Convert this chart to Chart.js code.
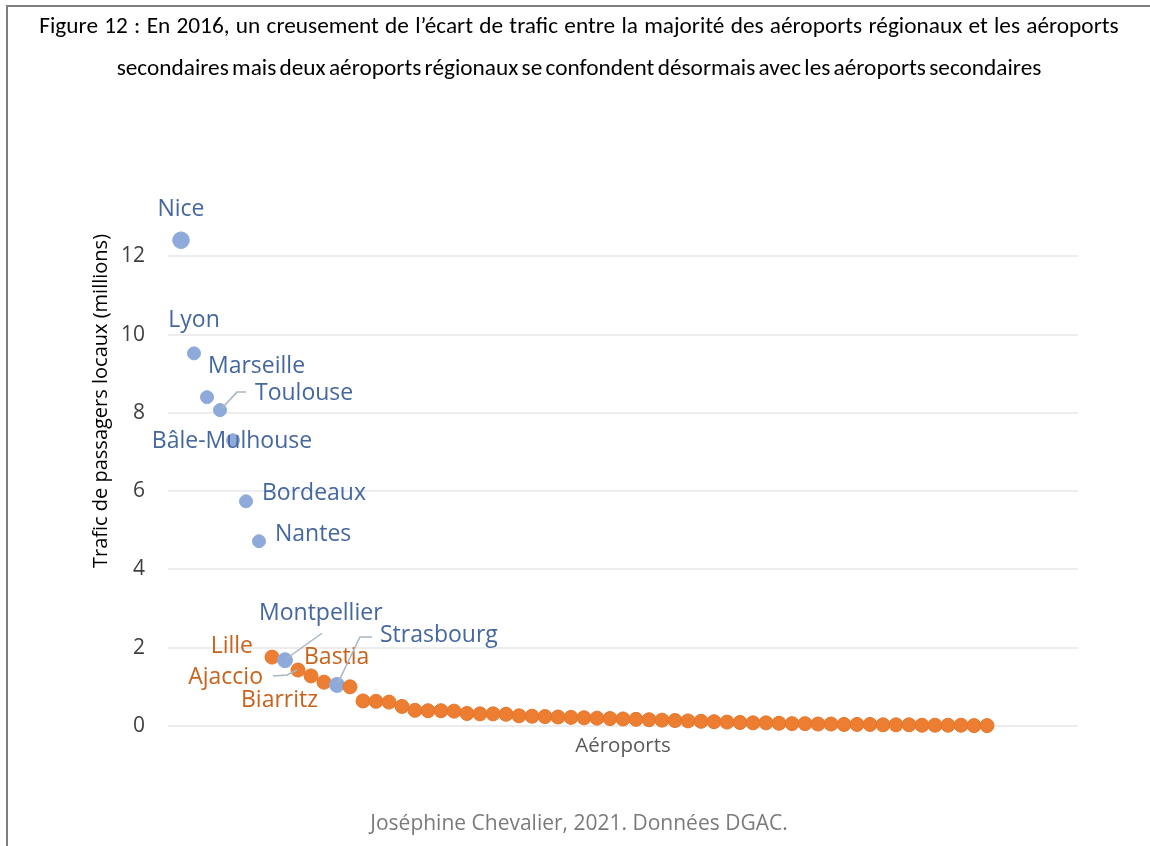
<!DOCTYPE html>
<html lang="fr">
<head>
<meta charset="utf-8">
<title>Figure 12</title>
<script src="https://cdn.jsdelivr.net/npm/chart.js@4.4.1/dist/chart.umd.min.js"></script>
<style>
    body { margin: 0; background: #fff; }
    #cadre {
        position: absolute; left: 6px; top: 5px; width: 1144px; height: 841px;
        border-top: 2px solid #7f7f7f; border-left: 2px solid #7f7f7f;
    }
    #graphique { position: absolute; left: 0; top: 0; }
    .titre {
        position: absolute; left: 4px; width: 1150px; text-align: center;
        font-family: 'Carlito', 'Liberation Sans Narrow', 'DejaVu Sans Condensed', sans-serif;
        font-size: 23.3px; line-height: 30px; color: #000; white-space: nowrap;
    }
    #source {
        position: absolute; left: 4px; width: 1150px; top: 808px; text-align: center;
        font-family: 'Open Sans', sans-serif; font-size: 21px; line-height: 28px; color: #7a7a7a;
    }
</style>
</head>
<body>
<div id="cadre"></div>
<canvas id="graphique" width="1150" height="846"></canvas>
<div class="titre" style="top:10px; word-spacing:1px">Figure 12 : En 2016, un creusement de l’écart de trafic entre la majorité des aéroports régionaux et les aéroports</div>
<div class="titre" style="top:52px; word-spacing:-2px">secondaires mais deux aéroports régionaux se confondent désormais avec les aéroports secondaires</div>
<div id="source">Joséphine Chevalier, 2021. Données DGAC.</div>

<script>
// Trafic de passagers locaux en 2016 (millions), aéroports classés par rang (1 = Nice)
const trafic = [12.41, 9.52, 8.40, 8.07, 7.30, 5.74, 4.72, 1.76, 1.68, 1.43, 1.28, 1.12, 1.05,
    1.00, 0.64, 0.63, 0.61, 0.50, 0.40, 0.39, 0.39, 0.38, 0.32, 0.31, 0.31, 0.30, 0.26, 0.25, 0.24,
    0.23, 0.22, 0.21, 0.20, 0.19, 0.18, 0.17, 0.16, 0.15, 0.14, 0.13, 0.12, 0.11, 0.10, 0.09, 0.08, 0.08,
    0.07, 0.06, 0.06, 0.05, 0.05, 0.04, 0.04, 0.04, 0.03, 0.03, 0.03, 0.02, 0.02, 0.02, 0.02, 0.01, 0.01];

// Noms des 13 premiers aéroports (les seuls étiquetés)
const noms = ['Nice', 'Lyon', 'Marseille', 'Toulouse', 'Bâle-Mulhouse', 'Bordeaux', 'Nantes',
    'Lille', 'Montpellier', 'Ajaccio', 'Bastia', 'Biarritz', 'Strasbourg'];

// Rangs des aéroports régionaux (les autres sont secondaires)
const rangsRegionaux = [1, 2, 3, 4, 5, 6, 7, 9, 13];

// Graduations de l'axe vertical
const graduationsY = [0, 2, 4, 6, 8, 10, 12];

const bleuPoint = '#8eaadb';
const orangePoint = '#ed7d31';
const bleuTexte = '#44679f';
const orangeTexte = '#c9621c';
const couleurTrait = '#aab5c4';

// Placement des étiquettes (décalage en pixels par rapport au point)
const placements = {
    'Nice':          { dx: 0,   dy: -31, align: 'center' },
    'Lyon':          { dx: 0,   dy: -33, align: 'center' },
    'Marseille':     { dx: 1,   dy: -31, align: 'left' },
    'Toulouse':      { dx: 35,  dy: -17, align: 'left', trait: [[2, -2], [17, -18], [26, -18]] },
    'Bâle-Mulhouse': { dx: -1,  dy: 1,   align: 'center' },
    'Bordeaux':      { dx: 16,  dy: -8,  align: 'left' },
    'Nantes':        { dx: 16,  dy: -7,  align: 'left' },
    'Lille':         { dx: -19, dy: -11, align: 'right' },
    'Montpellier':   { dx: -26, dy: -47, align: 'left', trait: [[2, -2], [37, -27]] },
    'Ajaccio':       { dx: -35, dy: 7,   align: 'right', trait: [[-25, 6], [-11, 5], [-1, 0]] },
    'Bastia':        { dx: -7,  dy: -18, align: 'left' },
    'Biarritz':      { dx: -6,  dy: 18,  align: 'right' },
    'Strasbourg':    { dx: 43,  dy: -49, align: 'left', trait: [[1, -2], [23, -48], [35, -48]] }
};

const points = trafic.map((v, i) => ({ x: i + 1, y: v }));
const estRegional = trafic.map((v, i) => rangsRegionaux.includes(i + 1));
const couleurs = estRegional.map(r => r ? bleuPoint : orangePoint);
const bordures = estRegional.map(r => r ? bleuPoint : '#e4762c');
const rayons = estRegional.map((r, i) => i === 0 ? 8.3 : (r ? (i > 7 ? 7.5 : 6.5) : 7));

// Étiquettes, traits de rappel et titre de l'axe vertical
const etiquettesPlugin = {
    id: 'etiquettes',
    afterDatasetsDraw(chart) {
        const ctx = chart.ctx;
        const sx = chart.scales.x;
        const sy = chart.scales.y;
        ctx.save();
        ctx.font = '23px "Open Sans"';
        ctx.textBaseline = 'middle';
        noms.forEach((nom, i) => {
            const p = placements[nom];
            const px = sx.getPixelForValue(i + 1);
            const py = sy.getPixelForValue(trafic[i]);
            if (p.trait) {
                ctx.strokeStyle = couleurTrait;
                ctx.lineWidth = 1.5;
                ctx.beginPath();
                p.trait.forEach(([tx, ty], k) => {
                    if (k === 0) ctx.moveTo(px + tx, py + ty);
                    else ctx.lineTo(px + tx, py + ty);
                });
                ctx.stroke();
            }
            ctx.fillStyle = estRegional[i] ? bleuTexte : orangeTexte;
            ctx.textAlign = p.align;
            ctx.fillText(nom, px + p.dx, py + p.dy);
        });
        // titre de l'axe Y
        ctx.font = '20px "Open Sans"';
        ctx.translate(101, 401);
        ctx.rotate(-Math.PI / 2);
        ctx.textAlign = 'center';
        ctx.fillStyle = '#000';
        ctx.fillText('Trafic de passagers locaux (millions)', 0, 0);
        ctx.restore();
    }
};

Chart.defaults.font.family = '"Open Sans", sans-serif';

new Chart(document.getElementById('graphique'), {
    type: 'scatter',
    data: {
        datasets: [{
            label: 'Aéroports',
            data: points,
            backgroundColor: couleurs,
            borderColor: bordures,
            borderWidth: 1,
            pointRadius: rayons,
            pointHoverRadius: rayons,
            clip: false
        }]
    },
    options: {
        responsive: false,
        devicePixelRatio: 1,
        animation: false,
        layout: { padding: { left: 80, top: 178, right: 72, bottom: 80 } },
        plugins: {
            legend: { display: false },
            tooltip: { enabled: false }
        },
        scales: {
            x: {
                type: 'linear',
                min: 0,
                max: 70,
                ticks: { display: false },
                grid: { display: false },
                border: { display: false },
                title: {
                    display: true,
                    text: 'Aéroports',
                    color: '#595959',
                    font: { size: 20.5 },
                    padding: { top: 0, bottom: 8 }
                },
                afterFit: scale => { scale.height = 40; }
            },
            y: {
                min: 0,
                max: 14,
                afterBuildTicks: scale => {
                    scale.ticks = graduationsY.concat([14]).map(v => ({ value: v }));
                },
                ticks: {
                    padding: 23,
                    color: '#404040',
                    font: { size: 21 },
                    callback: v => (graduationsY.includes(v) ? v : '')
                },
                grid: {
                    drawTicks: false,
                    lineWidth: 2,
                    color: c => (c.tick && c.tick.value === 14 ? 'rgba(0,0,0,0)' : '#ededed')
                },
                border: { display: false },
                afterFit: scale => { scale.width = 88; }
            }
        }
    },
    plugins: [etiquettesPlugin]
});
</script>
</body>
</html>
